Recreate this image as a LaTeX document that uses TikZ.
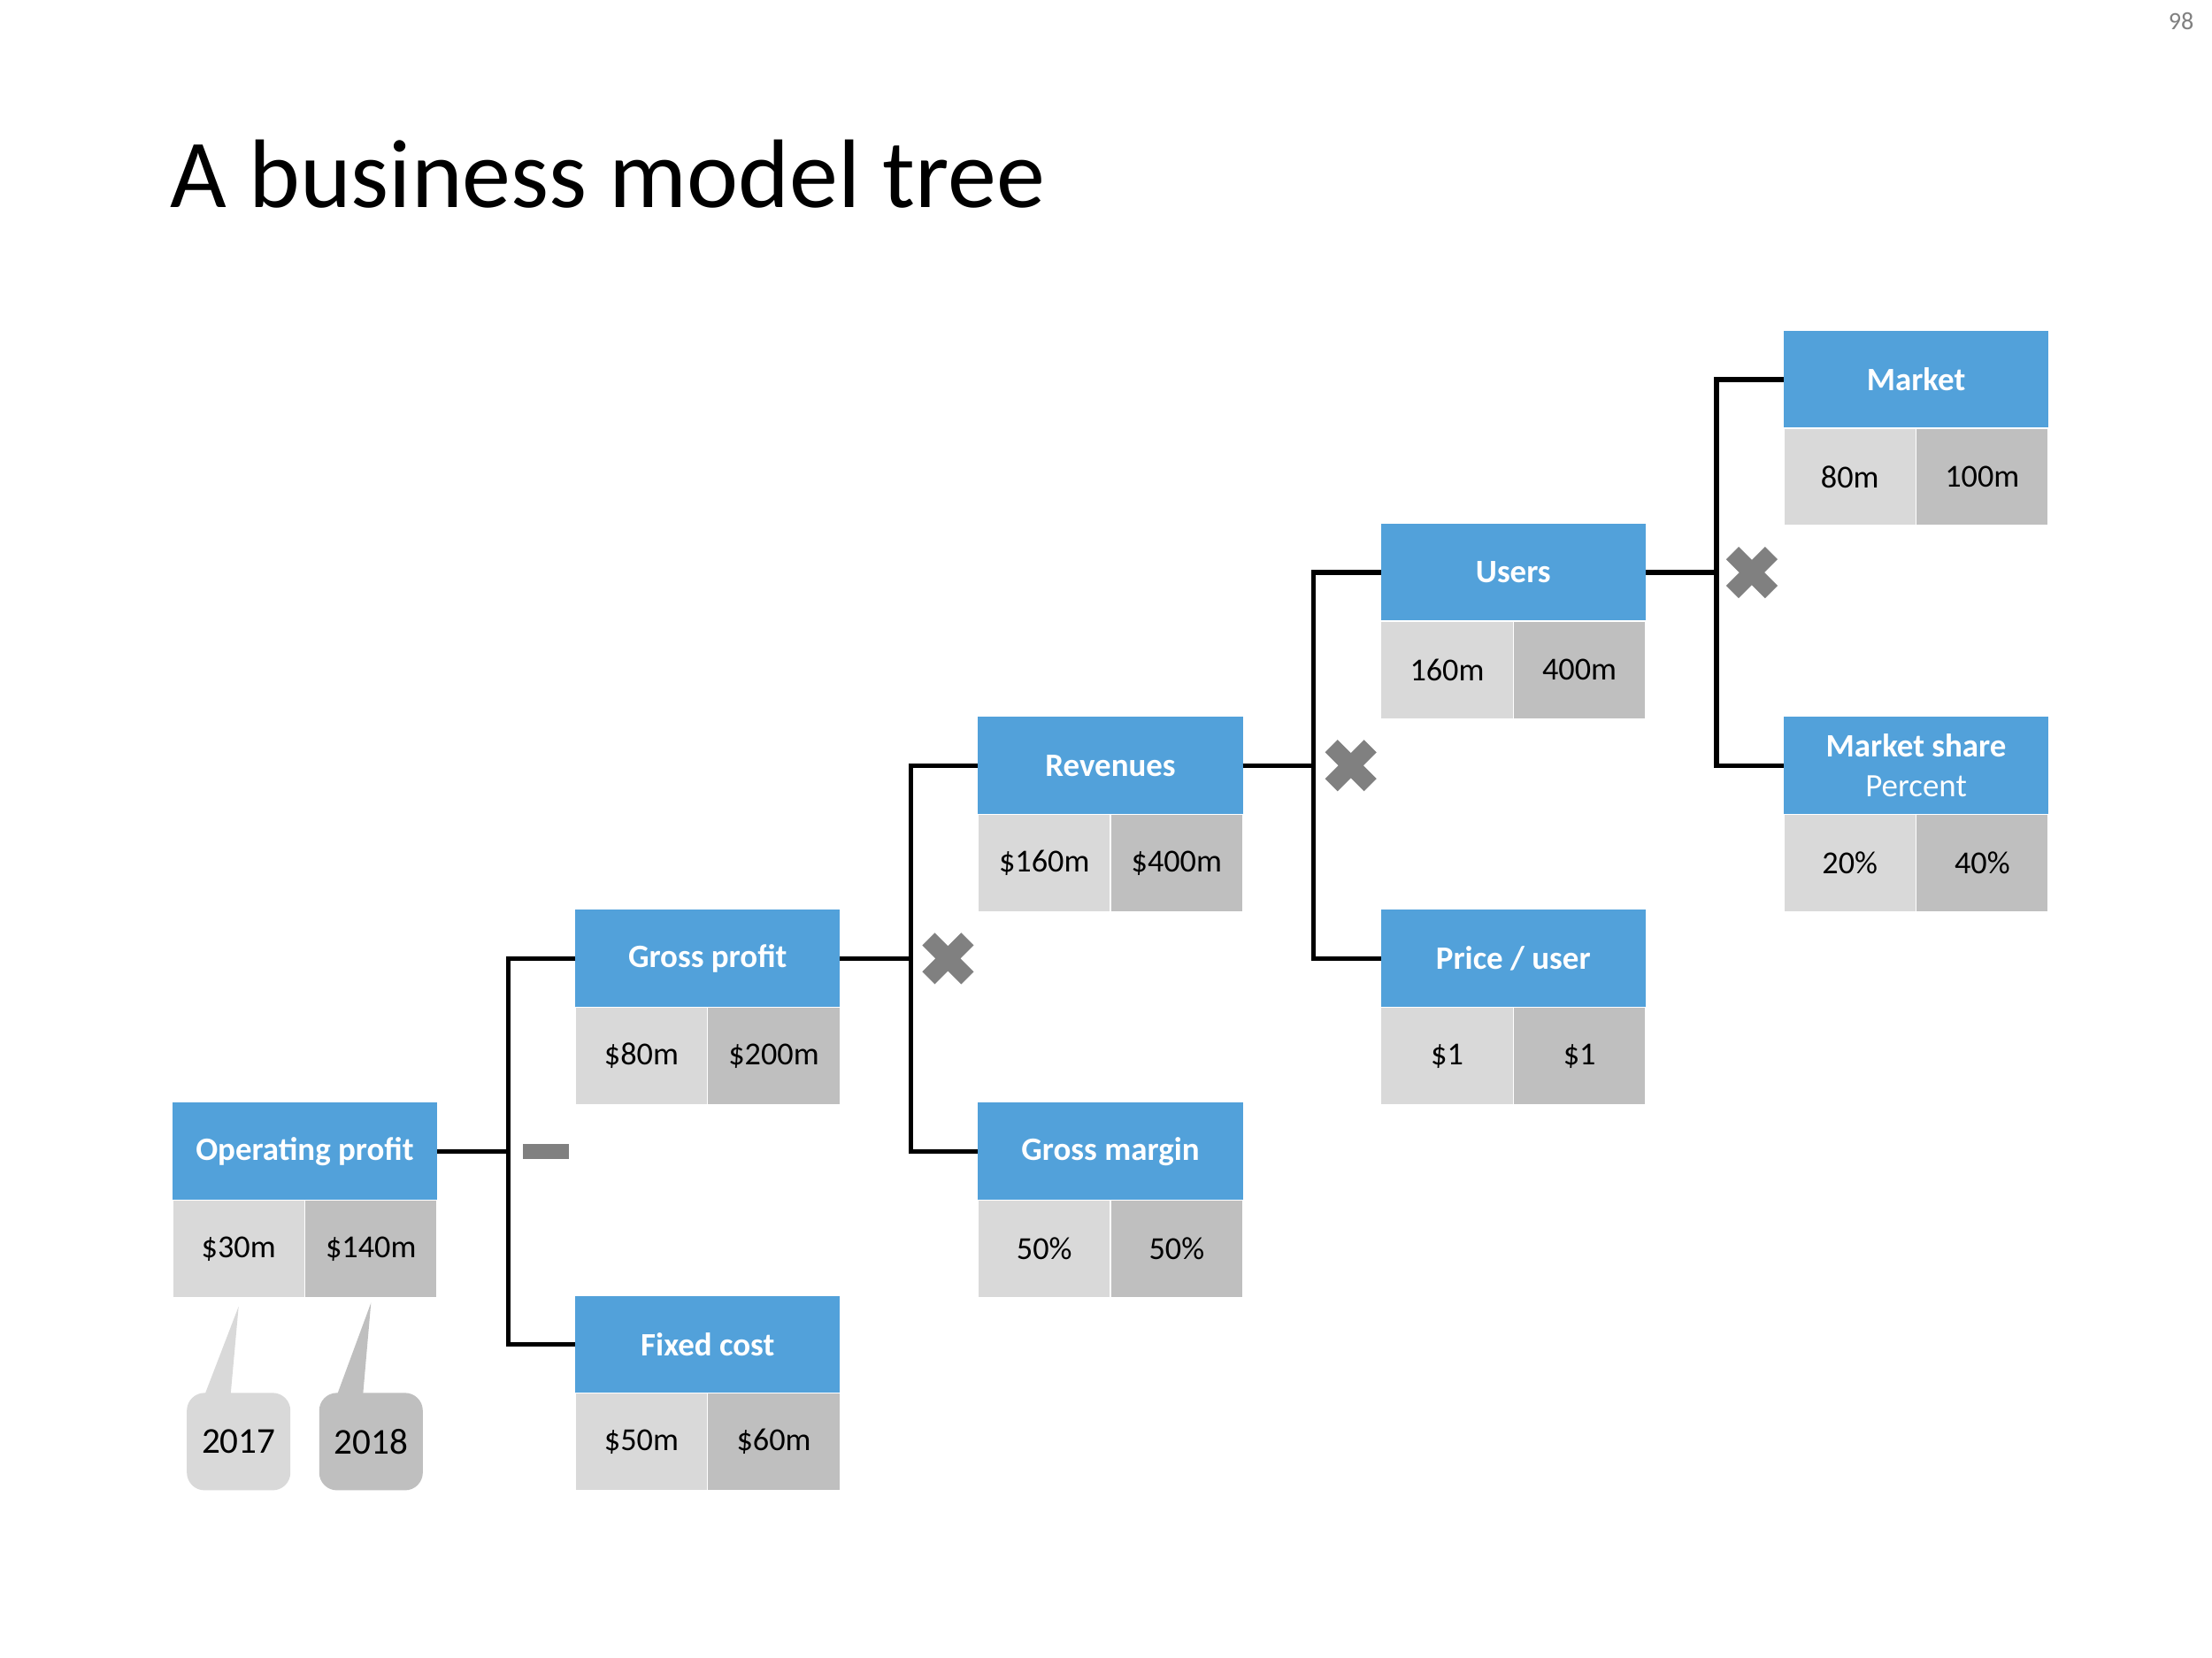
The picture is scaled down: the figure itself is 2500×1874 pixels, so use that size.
\documentclass[tikz,border=0pt]{standalone}
\usepackage{fontspec}
\setmainfont{Carlito}
\usepackage{tikz}
\usetikzlibrary{positioning,shapes.misc}
\definecolor{headblue}{RGB}{82,161,218}
\definecolor{cellA}{RGB}{217,217,217}
\definecolor{cellB}{RGB}{191,191,191}
\definecolor{signgray}{RGB}{128,128,128}

\begin{document}
\begin{tikzpicture}[x=0.01cm,y=0.01cm,
  head/.style={rectangle,fill=headblue,text=white,align=center,minimum width=2.99cm,minimum height=1.1cm,inner sep=0pt,outer sep=0pt,font=\fontsize{10.5}{12.6}\selectfont\bfseries},
  lo/.style={rectangle,fill=cellA,draw=white,line width=0.4pt,minimum width=1.495cm,minimum height=1.1cm,inner sep=0pt,outer sep=0pt,font=\fontsize{10.3}{12}\selectfont},
  hi/.style={lo,fill=cellB},
  year/.style={rectangle,rounded corners=0.2cm,minimum width=1.17cm,minimum height=1.1cm,inner sep=0pt,font=\fontsize{11.7}{14}\selectfont},
  times/.style={cross out,draw=signgray,line width=0.2cm,minimum size=0.44cm,inner sep=0pt,outer sep=0pt},
  minus/.style={rectangle,fill=signgray,minimum width=0.52cm,minimum height=0.17cm,inner sep=0pt},
  level distance=4.55cm, sibling distance=4.36cm, grow'=right,
  edge from parent/.style={draw,line width=1.5pt},
  edge from parent path={(\tikzparentnode.east) -- ++(0.8cm,0) |- (\tikzchildnode.west)}]
  \path[fill=white,use as bounding box] (0,0) rectangle (2500,-1874);

  % title and page number
  \node[anchor=base west,inner sep=0pt,font=\fontsize{31.3}{36}\selectfont] (title) at (192,-235) {A business model tree};
  \node[text=signgray,font=\fontsize{8}{10}\selectfont] (page) at (2465,-24) {98};

  % the tree
  \node[head] (op) at (344.5,-1301.5) {Operating profit}
    child {node[head] (gp) {Gross profit}
      child {node[head] (rev) {Revenues}
        child {node[head] (users) {Users}
          child {node[head] (market) {Market}}
          child {node[head] (share) {Market share\\\mdseries Percent}}
        }
        child {node[head] (price) {Price / user}}
      }
      child {node[head] (margin) {Gross margin}}
    }
    child {node[head] (fixed) {Fixed cost}};

  % values for both years
  \foreach \n/\a/\b in {op/\$30m/\$140m, gp/\$80m/\$200m, fixed/\$50m/\$60m,
      rev/\$160m/\$400m, margin/50\%/50\%, users/160m/400m, price/\$1/\$1,
      market/80m/100m, share/20\%/40\%}
  {
    \node[lo,anchor=north west] (\n-a) at (\n.south west) {\a};
    \node[hi,anchor=north east] (\n-b) at (\n.south east) {\b};
  }

  % operators
  \node[minus] (sub) at ([xshift=1.23cm]op.east) {};
  \node[times] (mul1) at ([xshift=1.22cm]gp.east) {};
  \node[times] (mul2) at ([xshift=1.22cm]rev.east) {};
  \node[times] (mul3) at ([xshift=1.2cm]users.east) {};

  % year callouts
  \node[year,fill=cellA,below=1.07cm of op-a] (y17) {2017};
  \node[year,fill=cellB,below=1.07cm of op-b] (y18) {2018};
  \fill[cellA] ([xshift=-0.38cm,yshift=-0.02cm]y17.north) -- ([xshift=-0.09cm,yshift=-0.02cm]y17.north) -- ([yshift=-0.1cm]op-a.south) -- cycle;
  \fill[cellB] ([xshift=-0.38cm,yshift=-0.02cm]y18.north) -- ([xshift=-0.09cm,yshift=-0.02cm]y18.north) -- ([yshift=-0.06cm]op-b.south) -- cycle;
\end{tikzpicture}
\end{document}
